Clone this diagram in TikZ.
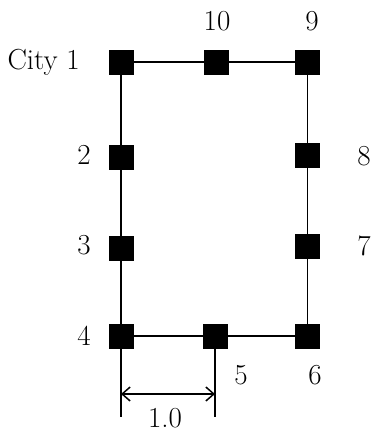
\documentclass[tikz,border=0pt]{standalone}
\usetikzlibrary{arrows.meta}
\begin{document}
\begin{tikzpicture}[x=1pt,y=-1pt,
  city/.style={draw=black,fill=black,minimum size=24pt,inner sep=0pt},
  lab/.style={inner sep=0pt,font=\fontsize{29}{31}\selectfont},
  road/.style={line width=1.8pt},
  dim/.style={line width=1.5pt}]
\useasboundingbox (0,0) rectangle (370,434);
\node[city] (c1) at (121,62) {};
\node[city] (c10) at (216,62) {};
\node[city] (c9) at (307.5,62) {};
\node[city] (c2) at (121,157) {};
\node[city] (c3) at (121,248) {};
\node[city] (c4) at (121,336) {};
\node[city] (c5) at (215,336) {};
\node[city] (c6) at (307.5,336) {};
\node[city] (c7) at (307.5,246) {};
\node[city] (c8) at (307.5,155) {};
\draw[road] (c1) -- (c10) -- (c9) -- (c8) -- (c7) -- (c6) -- (c5) -- (c4) -- (c3) -- (c2) -- (c1);
\node[lab,anchor=east] (l1) at (80,62) {City 1};
\node[lab] (l10) at (217,21) {10};
\node[lab] (l9) at (312,21) {9};
\node[lab] (l2) at (84,155) {2};
\node[lab] (l3) at (84,245) {3};
\node[lab] (l4) at (84,336) {4};
\node[lab] (l8) at (364,156) {8};
\node[lab] (l7) at (364,246) {7};
\node[lab] (l5) at (241,375) {5};
\node[lab] (l6) at (315,375) {6};
\node[lab] (l10d) at (165,418) {1.0};
\coordinate (e4) at (121,417);
\coordinate (e5) at (215,417);
\coordinate (a4) at (121,394);
\coordinate (a5) at (215,394);
\draw[dim] (c4) -- (e4);
\draw[dim] (c5) -- (e5);
\draw[dim,{Straight Barb[length=8pt,width=14pt]}-{Straight Barb[length=8pt,width=14pt]}] (a4) -- (a5);
\end{tikzpicture}
\end{document}
